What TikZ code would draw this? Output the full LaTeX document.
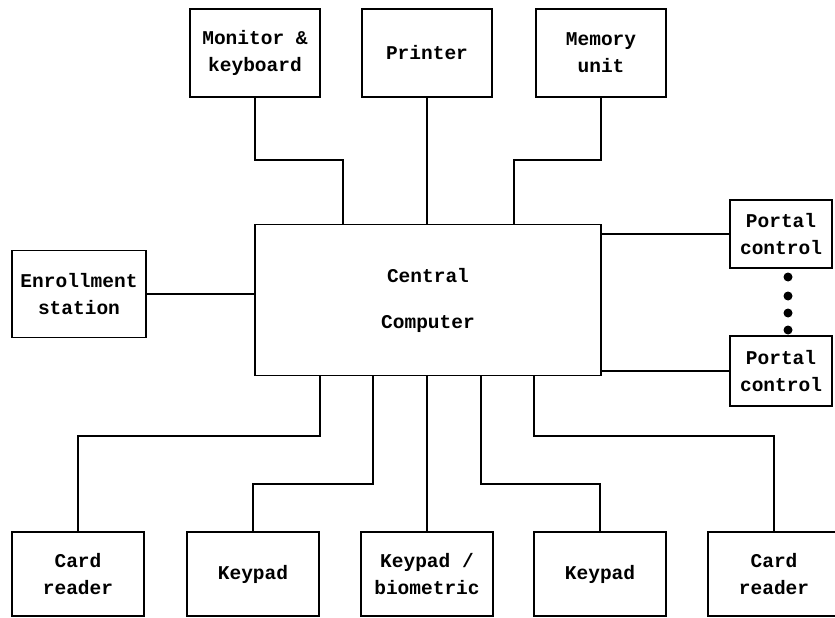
\documentclass[tikz,border=0pt]{standalone}
\usepackage{fontspec}
\setmonofont{Liberation Mono}

\begin{document}
\begin{tikzpicture}[x=1pt,y=-1pt,line width=1.5pt,
  font=\ttfamily\bfseries\fontsize{19.5}{27}\selectfont,
  unit/.style={draw,minimum width=130pt,minimum height=88pt,align=center,inner sep=0pt}]
\useasboundingbox (0,0) rectangle (835,618);
% top row
\foreach \name/\x/\txt in {mon/255/Monitor \&\\keyboard,prn/427/Printer,mem/601/Memory\\unit}{
\node[unit] (\name) at (\x,53) {\txt};}
\node[unit,minimum width=346pt,minimum height=151pt] (cen) at (428,300) {Central\\[19pt]Computer};
\node[unit,minimum width=134pt,minimum height=87pt] (enr) at (79,294) {Enrollment\\station};
\node[unit,minimum width=102pt,minimum height=68pt] (por1) at (781,234) {Portal\\control};
\node[unit,minimum width=102pt,minimum height=70pt] (por2) at (781,371) {Portal\\control};
% bottom row
\foreach \name/\x/\txt in {cr1/78/Card\\reader,kp1/253/Keypad,kb/427/Keypad \slash\\biometric,
kp2/600/Keypad,cr2/774/Card\\reader}{
\node[unit,minimum width=132pt,minimum height=84pt] (\name) at (\x,574) {\txt};}
% links
\foreach \name/\x in {mon/343,prn/427,mem/514}{
\coordinate (t\name) at (\x,160);
\draw (\name.south) |- (t\name) -- (t\name |- cen.north);}
\foreach \name/\x/\y in {cr1/320/436,kp1/373/484,kb/427/484,kp2/481/484,cr2/534/436}{
\coordinate (b\name) at (\x,\y);
\draw (b\name |- cen.south) -- (b\name) -| (\name.north);}
\draw (enr.east) -- (enr.east -| cen.west);
\draw (cen.east |- por1.west) -- (por1.west);
\draw (cen.east |- por2.west) -- (por2.west);
\foreach \y in {277,296,313,330}{\fill (788,\y) circle (4.5);}
\end{tikzpicture}
\end{document}
